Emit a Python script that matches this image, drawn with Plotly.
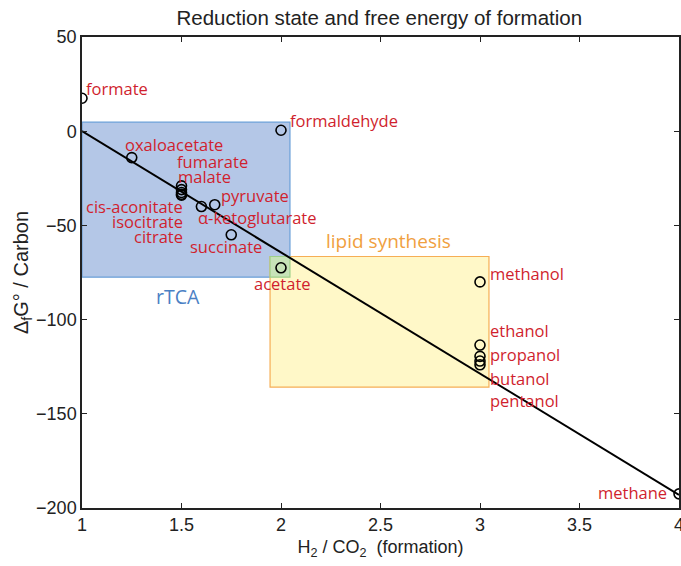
import plotly.graph_objects as go

# Compounds: H2/CO2 ratio of formation and free energy of formation per carbon
compounds = ["formate", "formaldehyde", "oxaloacetate", "fumarate", "malate",
             "cis-aconitate", "isocitrate", "citrate", "pyruvate", "α-ketoglutarate",
             "succinate", "acetate", "methanol", "ethanol", "propanol", "butanol",
             "pentanol", "methane"]
h2_co2 = [1.0, 2.0, 1.25, 1.5, 1.5, 1.5, 1.5, 1.5, 1.667, 1.6,
          1.75, 2.0, 3.0, 3.0, 3.0, 3.0, 3.0, 4.0]
dg_per_c = [17.5, 0.5, -14.0, -29.0, -31.0, -32.5, -33.5, -34.0, -39.0, -40.0,
            -55.0, -72.5, -80.0, -113.5, -119.5, -122.0, -124.0, -192.5]

# Trend line endpoints
trend_x = [1.0, 4.0]
trend_y = [0.0, -193.0]

# Label placement: (x, y, anchor)
label_pos = {
    "formate": (1.01, 22.5, "left"),
    "formaldehyde": (2.035, 5.5, "left"),
    "oxaloacetate": (1.46, -7.0, "center"),
    "fumarate": (1.465, -16.0, "left"),
    "malate": (1.47, -24.0, "left"),
    "cis-aconitate": (1.518, -40.0, "right"),
    "isocitrate": (1.518, -48.0, "right"),
    "citrate": (1.518, -56.0, "right"),
    "pyruvate": (1.69, -34.0, "left"),
    "α-ketoglutarate": (1.575, -46.0, "left"),
    "succinate": (1.723, -61.0, "center"),
    "acetate": (2.01, -81.0, "center"),
    "methanol": (3.04, -75.5, "left"),
    "ethanol": (3.04, -106.0, "left"),
    "propanol": (3.04, -118.5, "left"),
    "butanol": (3.04, -131.0, "left"),
    "pentanol": (3.04, -143.0, "left"),
    "methane": (3.95, -192.0, "right"),
}

# Pathway regions
rtca_box = dict(x0=1.0, x1=2.045, y0=-77.5, y1=4.8)
lipid_box = dict(x0=1.945, x1=3.045, y0=-135.8, y1=-66.5)
acetate_box = dict(x0=1.945, x1=2.045, y0=-77.5, y1=-66.5)

RED = "#d01f2e"
LABEL_FONT = "Open Sans"
AXIS_FONT = "Liberation Sans"

fig = go.Figure()

fig.add_shape(type="rect", **rtca_box, xref="x", yref="y", layer="below",
              fillcolor="#b4c7e7", line=dict(color="#6a9fd8", width=1.2))
fig.add_shape(type="rect", **lipid_box, xref="x", yref="y", layer="below",
              fillcolor="#fff8c8", line=dict(color="#f6ae55", width=1.2))
fig.add_shape(type="rect", **acetate_box, xref="x", yref="y", layer="below",
              fillcolor="#c7e3b8", line=dict(color="#9fd08a", width=1.2))

fig.add_trace(go.Scatter(x=trend_x, y=trend_y, mode="lines",
                         line=dict(color="black", width=2), hoverinfo="skip"))
fig.add_trace(go.Scatter(x=h2_co2, y=dg_per_c, mode="markers", text=compounds,
                         marker=dict(symbol="circle-open", size=10,
                                     color="black", line=dict(width=1.6))))

for name in compounds:
    lx, ly, anchor = label_pos[name]
    fig.add_annotation(x=lx, y=ly, text=name, showarrow=False, xanchor=anchor,
                       yanchor="middle",
                       font=dict(family=LABEL_FONT, size=16.5, color=RED))

fig.add_annotation(x=2.54, y=-58.5, text="lipid synthesis", showarrow=False,
                   font=dict(family=LABEL_FONT, size=19, color="#f0a040"))
fig.add_annotation(x=1.48, y=-88.0, text="rTCA", showarrow=False,
                   font=dict(family=LABEL_FONT, size=19.5, color="#4a80c4"))

fig.update_layout(
    width=681, height=566,
    margin=dict(l=82, r=2, t=37, b=58, autoexpand=False),
    paper_bgcolor="white", plot_bgcolor="white",
    showlegend=False,
    title=dict(text="Reduction state and free energy of formation",
               x=0.557, xanchor="center", y=0.968, yanchor="middle",
               font=dict(family=AXIS_FONT, size=20.5, color="#222")),
    font=dict(family=AXIS_FONT, size=17, color="#222"),
)
fig.update_xaxes(range=[1, 4], tickvals=[1, 1.5, 2, 2.5, 3, 3.5, 4],
                 ticktext=["1", "1.5", "2", "2.5", "3", "3.5", "4"],
                 ticklabeloverflow="allow", automargin=False,
                 showgrid=False, zeroline=False, showline=True, mirror="ticks",
                 linecolor="#222", linewidth=1.5, ticks="inside", ticklen=5,
                 tickcolor="#222", tickfont=dict(size=18),
                 title=dict(text="H<sub>2</sub> / CO<sub>2</sub>  (formation)",
                            font=dict(size=18), standoff=6))
fig.update_yaxes(range=[-200, 50], tickvals=[-200, -150, -100, -50, 0, 50],
                 ticktext=["\u2212200", "\u2212150", "\u2212100", "\u221250", "0", "50"],
                 ticklabeloverflow="allow", automargin=False,
                 showgrid=False, zeroline=False, showline=True, mirror="ticks",
                 linecolor="#222", linewidth=1.5, ticks="inside", ticklen=5,
                 tickcolor="#222", tickfont=dict(size=18),
                 title=dict(text="\u0394<sub>f</sub>G\u00b0 / Carbon",
                            font=dict(size=20), standoff=2))

fig.write_html("out.html")
